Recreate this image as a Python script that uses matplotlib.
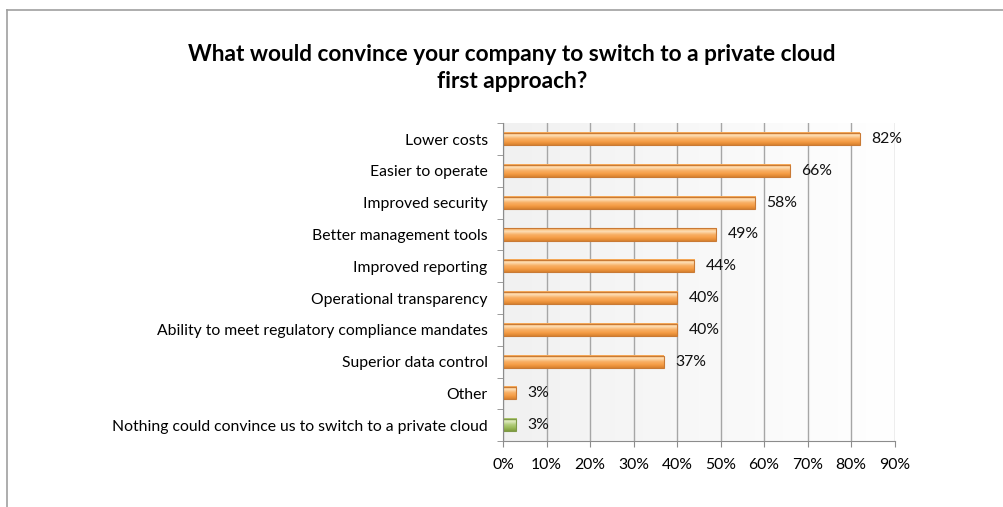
"""Private cloud survey: horizontal bar chart."""

import matplotlib.pyplot as plt
import numpy as np
from matplotlib.colors import LinearSegmentedColormap
from matplotlib.lines import Line2D
from matplotlib.patches import Rectangle

categories = [
    "Lower costs",
    "Easier to operate",
    "Improved security",
    "Better management tools",
    "Improved reporting",
    "Operational transparency",
    "Ability to meet regulatory compliance mandates",
    "Superior data control",
    "Other",
    "Nothing could convince us to switch to a private cloud",
]
values = [82, 66, 58, 49, 44, 40, 40, 37, 3, 3]
bar_colors = ["orange"] * 9 + ["green"]
x_ticks = [0, 10, 20, 30, 40, 50, 60, 70, 80, 90]
title = "What would convince your company to switch to a private cloud\nfirst approach?"

plt.rcParams["font.family"] = ["Lato", "DejaVu Sans"]

gradients = {
    "orange": LinearSegmentedColormap.from_list(
        "o", ["#d9822f", "#f59d45", "#f8b066", "#fde0b8", "#f6a24c"]),
    "green": LinearSegmentedColormap.from_list(
        "g", ["#7f9c3e", "#9bbb59", "#b3cd7d", "#dfeabf", "#a3c063"]),
}
edges = {"orange": "#c97a35", "green": "#7f9a48"}

fig = plt.figure(figsize=(10.04, 5.07), dpi=100)
ax = fig.add_axes([0.501, 0.130, 0.390, 0.627])

n = len(categories)
y = np.arange(n)
bar_h = 0.38

# plot area background: faint grey fading to white on the right
bg = np.linspace(0, 1, 256).reshape(1, -1)
bg_cmap = LinearSegmentedColormap.from_list("bg", ["#f1f1f1", "#ffffff"])
ax.imshow(bg, cmap=bg_cmap, aspect="auto", extent=[0, 1, 0, 1],
          transform=ax.transAxes, zorder=0)

ax.set_xticks(x_ticks)
ax.xaxis.grid(True, color="#a6a6a6", linewidth=1.0, zorder=1)
ax.set_axisbelow(True)

grad = np.linspace(0, 1, 64).reshape(-1, 1)
for yi, v, c in zip(y, values, bar_colors):
    top, bot = yi - bar_h / 2, yi + bar_h / 2
    ax.imshow(grad, cmap=gradients[c].reversed(), aspect="auto",
              extent=[0, v, bot, top], zorder=2, interpolation="bilinear")
    ax.add_patch(Rectangle((0, top), v, bar_h, fill=False,
                           edgecolor=edges[c], linewidth=0.8, zorder=3))
    ax.text(v + 2.6, yi, f"{v}%", va="center", ha="left",
            fontsize=11.3, color="#111111", zorder=4)

ax.set_xlim(0, 90)
ax.set_ylim(n - 0.5, -0.5)

ax.set_yticks(y)
ax.set_yticklabels(categories, fontsize=11.3)
ax.set_yticks(np.arange(n + 1) - 0.5, minor=True)
ax.tick_params(axis="y", which="major", length=0, pad=11)
ax.tick_params(axis="y", which="minor", length=4, color="#8c8c8c", direction="out")
ax.set_xticklabels([f"{t}%" for t in x_ticks], fontsize=11.3)
ax.tick_params(axis="x", length=4, color="#8c8c8c", direction="out", pad=8)

for side in ("top", "right"):
    ax.spines[side].set_visible(False)
for side in ("left", "bottom"):
    ax.spines[side].set_color("#8c8c8c")
    ax.spines[side].set_zorder(5)

fig.text(0.51, 0.865, title, ha="center", va="center",
         fontsize=16.3, fontweight="bold", linespacing=1.35)

# chart frame (top and left edges visible)
fig.add_artist(Line2D([7 / 1004, 1], [1 - 10 / 507, 1 - 10 / 507],
                      color="#a0a0a0", linewidth=1.2))
fig.add_artist(Line2D([7 / 1004, 7 / 1004], [0, 1 - 10 / 507],
                      color="#a0a0a0", linewidth=1.2))

fig.savefig("out.png", dpi=100)
plt.close(fig)
